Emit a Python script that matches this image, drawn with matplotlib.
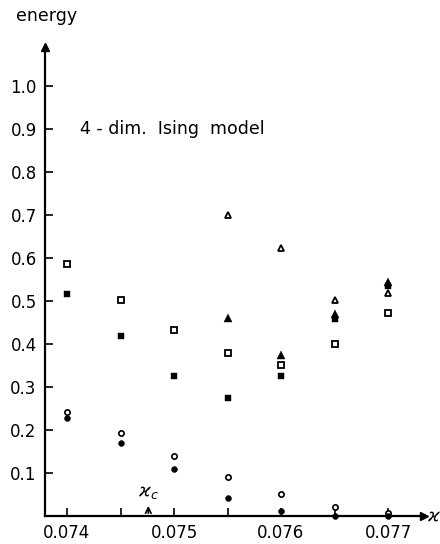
import matplotlib
matplotlib.use("Agg")
import matplotlib.pyplot as plt

kappa = [0.0740, 0.0745, 0.0750, 0.0755, 0.0760, 0.0765, 0.0770]
open_square = [0.586, 0.502, 0.433, 0.379, 0.350, 0.400, 0.472]
filled_square = [0.516, 0.419, 0.326, 0.274, 0.325, 0.458, 0.535]
open_circle = [0.242, 0.193, 0.140, 0.090, 0.050, 0.020, 0.007]
filled_circle = [0.228, 0.170, 0.109, 0.042, 0.012, 0.000, 0.000]
kappa_tri = [0.0755, 0.0760, 0.0765, 0.0770]
open_triangle = [0.700, 0.623, 0.502, 0.518]
filled_triangle = [0.460, 0.374, 0.470, 0.545]

kappa_c = 0.07476
xticks = [0.0740, 0.0745, 0.0750, 0.0755, 0.0760, 0.0765, 0.0770]
xlabels = ["0.074", "", "0.075", "", "0.076", "", "0.077"]
yticks = [0.1, 0.2, 0.3, 0.4, 0.5, 0.6, 0.7, 0.8, 0.9, 1.0]
ylabels = ["0.1", "0.2", "0.3", "0.4", "0.5", "0.6", "0.7", "0.8", "0.9", "1.0"]

fig = plt.figure(figsize=(4.4, 5.44), dpi=100)
x0, x1 = 45, 424
ax = fig.add_axes([x0/440, 28/544, (x1-x0)/440, (516-47)/544])
ax.set_xlim(0.074 - (67-x0)/107*0.001, 0.074 + (x1-67)/107*0.001)
ax.set_ylim(0, 1.09)
for s in ["top", "right"]:
    ax.spines[s].set_visible(False)
for s in ["left", "bottom"]:
    ax.spines[s].set_linewidth(1.6)

ax.plot(kappa, open_square, 's', ms=4, mfc='white', mec='black', mew=1.3, clip_on=False)
ax.plot(kappa, filled_square, 's', ms=5, mfc='black', mec='black', mew=0.3, clip_on=False)
ax.plot(kappa, open_circle, 'o', ms=3.8, mfc='white', mec='black', mew=1.2, clip_on=False)
ax.plot(kappa, filled_circle, 'o', ms=4.3, mfc='black', mec='black', mew=0.3, clip_on=False)
ax.plot(kappa_tri, open_triangle, '^', ms=4.8, mfc='white', mec='black', mew=1.3, clip_on=False)
ax.plot(kappa_tri, filled_triangle, '^', ms=5.5, mfc='black', mec='black', mew=0.3, clip_on=False)

ax.set_xticks(xticks)
ax.set_xticklabels(xlabels)
ax.set_yticks(yticks)
ax.set_yticklabels(ylabels)
ax.tick_params(direction='in', length=6, width=1.2, labelsize=12, pad=6)

# axis arrows
ax.plot([0], [1], marker='^', ms=6, color='black', transform=ax.transAxes, clip_on=False)
ax.plot([1], [0], marker='>', ms=6, color='black', transform=ax.transAxes, clip_on=False)

fig.text(16/440, 1 - 21/544, "energy", fontsize=12.5, ha='left', va='baseline')
fig.text(427/440, 28/544, r"$\varkappa$", fontsize=13, ha='left', va='center')
ax.text(0.07412, 0.9, "4 - dim.  Ising  model", fontsize=12.5, ha='left', va='center')

# kappa_c marker
ax.annotate("", xy=(kappa_c, 0.0), xytext=(kappa_c, 0.03),
            arrowprops=dict(arrowstyle='<-', lw=1.2, color='black'))
ax.text(kappa_c, 0.035, r"$\varkappa_c$", fontsize=13, ha='center', va='bottom')

fig.savefig("out.png", dpi=100)
